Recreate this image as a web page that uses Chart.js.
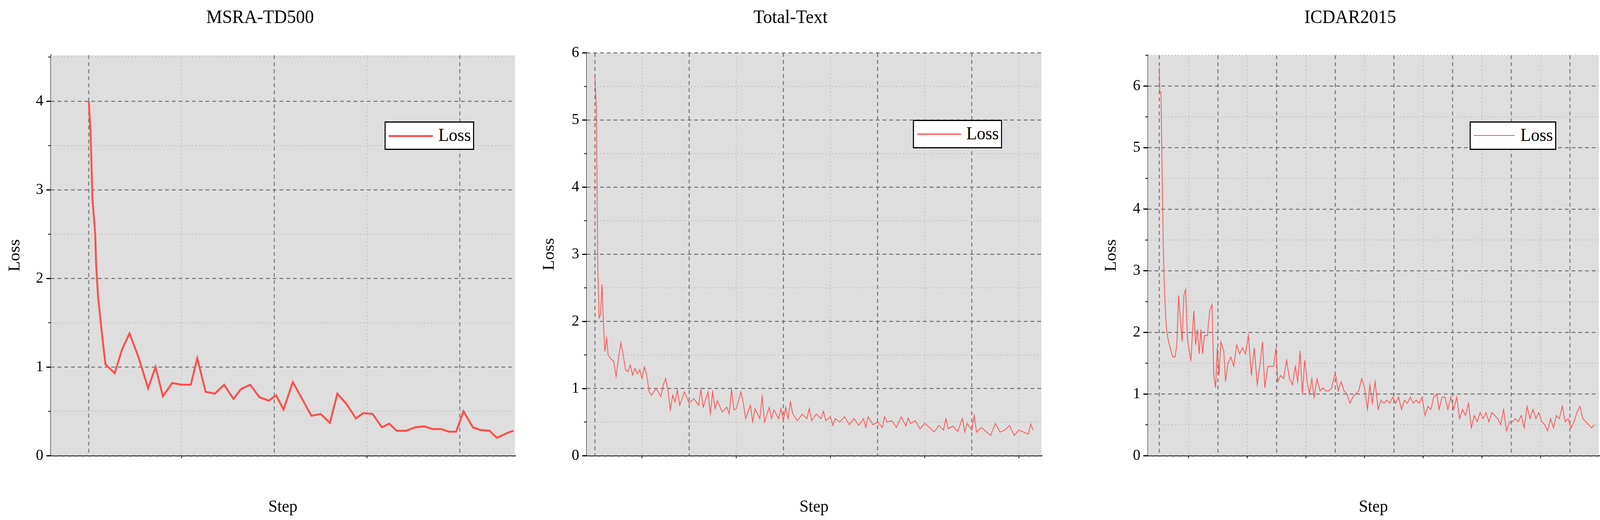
<!DOCTYPE html>
<html>
<head>
<meta charset="utf-8">
<script src="https://cdn.jsdelivr.net/npm/chart.js@4.4.1/dist/chart.umd.min.js"></script>
<style>
  html, body { margin: 0; padding: 0; background: #fff; overflow: hidden; }
  #page { width: 4282px; height: 1332px; position: absolute; left: 0; top: 0; transform-origin: 0 0; }
  .panel { position: absolute; top: 0; height: 1332px; }
  .legend { position: absolute; height: 67px; background: #fff; border: 3px solid #000;
            font-family: "Liberation Serif", serif; font-size: 46px; line-height: 67px; }
  .legend span.sw { position: absolute; left: 8px; top: 32px; width: 118px; background: #ff4d4d; }
  .legend span.tx { position: absolute; right: 6px; top: -2px; }
</style>
</head>
<body>
<div id="page">
<div class="panel" style="left:0;width:1430px"><canvas id="c1" width="1430" height="1332"></canvas></div>
<div class="panel" style="left:1430px;width:1430px"><canvas id="c2" width="1430" height="1332"></canvas></div>
<div class="panel" style="left:2860px;width:1422px"><canvas id="c3" width="1422" height="1332"></canvas></div>
<div class="legend" style="left:1029px;top:311px;width:234px"><span class="sw" style="height:5px"></span><span class="tx">Loss</span></div>
<div class="legend" style="left:2443px;top:307px;width:233px"><span class="sw" style="height:3px"></span><span class="tx">Loss</span></div>
<div class="legend" style="left:3933px;top:311px;width:226px"><span class="sw" style="height:2px;width:110px"></span><span class="tx">Loss</span></div>
</div>
<script>
// MSRA-TD500
const msraSteps = [0,100,200,350,400,500,700,900,1400,1800,2200,2700,3200,3600,4000,4500,5000,5500,5850,6300,6800,7300,7800,8200,8700,9200,9700,10100,10500,11000,11500,12000,12500,13000,13400,13900,14400,14800,15300,15800,16200,16600,17100,17600,18100,18500,19000,19400,19800,20200,20700,21100,21600,22000,22600,22900];
const msraLoss = [4.0,3.65,2.9,2.5,2.15,1.8,1.4,1.03,0.93,1.2,1.38,1.1,0.76,1.0,0.67,0.82,0.8,0.8,1.1,0.72,0.7,0.8,0.64,0.75,0.8,0.66,0.62,0.68,0.52,0.83,0.64,0.45,0.47,0.37,0.7,0.58,0.42,0.48,0.47,0.32,0.36,0.28,0.28,0.32,0.33,0.3,0.3,0.27,0.27,0.5,0.32,0.29,0.28,0.2,0.26,0.28];

// Total-Text (steps in thousands)
const totalSteps = [0,0.3,0.6,0.9,1.2,1.5,1.8,2.1,2.5,2.8,3.3,4.0,4.5,5.0,5.5,6.0,6.5,7.0,7.5,8.0,8.5,9.0,9.5,10.0,10.5,11.0,11.5,12.0,13.0,14.0,14.5,15.0,15.5,16.0,16.5,17.0,17.5,18.0,19.0,20.0,21.0,22.0,22.5,23.0,24.0,24.5,25.0,25.5,26.0,27.0,28.0,28.5,29.0,29.5,30.0,31.0,31.5,32.0,33.0,33.5,34.0,35.0,35.5,36.0,37.0,37.5,38.0,39.0,39.5,40.0,40.5,41.0,41.5,42.0,43.0,44.0,45.0,45.5,46.0,47.0,48.0,48.5,49.0,50.0,50.5,51.0,52.0,53.0,54.0,55.0,56.0,57.0,57.5,58.0,59.0,60.0,61.0,61.5,62.0,63.0,64.0,65.0,66.0,66.5,67.0,68.0,69.0,70.0,71.0,72.0,73.0,74.0,74.5,75.0,76.0,77.0,78.0,78.5,79.0,80.0,80.5,81.0,82.0,83.0,84.0,85.0,86.0,87.0,88.0,89.0,90.0,91.0,92.0,92.5,93.0];
const totalLoss = [5.65,5.2,2.8,2.05,2.1,2.55,2.0,1.55,1.75,1.5,1.45,1.4,1.18,1.45,1.68,1.5,1.28,1.25,1.35,1.2,1.3,1.22,1.28,1.15,1.32,1.2,0.95,0.9,1.0,0.88,1.05,1.15,0.98,0.68,0.9,0.8,0.98,0.75,0.95,0.78,0.85,0.75,0.98,0.72,0.95,0.62,0.95,0.7,0.82,0.65,0.72,0.62,0.98,0.68,0.7,0.95,0.78,0.55,0.75,0.5,0.7,0.55,0.88,0.5,0.72,0.55,0.68,0.55,0.7,0.52,0.72,0.55,0.8,0.62,0.52,0.62,0.55,0.7,0.52,0.62,0.55,0.66,0.52,0.58,0.45,0.55,0.5,0.58,0.46,0.55,0.45,0.55,0.42,0.58,0.46,0.5,0.42,0.58,0.5,0.52,0.42,0.58,0.44,0.56,0.48,0.52,0.4,0.48,0.42,0.35,0.45,0.38,0.55,0.4,0.44,0.36,0.55,0.35,0.48,0.38,0.6,0.35,0.42,0.36,0.3,0.48,0.35,0.38,0.45,0.3,0.38,0.35,0.32,0.47,0.38];

// ICDAR2015 (steps in thousands)
const icdarSteps = [0,0.1,0.3,0.5,0.7,0.9,1.1,1.3,1.6,2.0,2.3,2.7,3.0,3.3,3.6,3.9,4.2,4.5,4.8,5.1,5.4,5.7,5.9,6.2,6.5,6.8,7.1,7.4,7.7,8.2,8.6,9.0,9.3,9.6,9.9,10.2,10.5,11.0,11.3,11.7,12.2,12.7,13.2,13.7,14.2,14.7,15.2,15.7,16.2,16.7,17.2,17.6,18.0,18.5,19.0,19.5,19.9,20.2,20.7,21.2,21.7,22.2,22.7,23.2,23.6,24.0,24.4,24.8,25.2,25.6,26.0,26.4,26.9,27.4,27.9,28.4,28.9,29.4,30.0,30.5,31.0,31.5,32.0,32.5,33.0,33.5,34.0,34.5,35.0,35.5,35.9,36.3,36.8,37.3,37.8,38.3,38.8,39.3,39.8,40.3,40.8,41.3,41.8,42.3,42.8,43.3,43.8,44.3,44.8,45.3,45.8,46.3,46.8,47.3,47.7,48.2,48.7,49.2,49.7,50.2,50.7,51.2,51.7,52.2,52.7,53.2,53.7,54.2,54.7,55.2,55.7,56.2,56.7,57.2,57.7,58.2,58.7,59.2,59.7,60.2,60.7,61.2,61.7,62.2,62.7,63.2,63.7,64.2,64.7,65.2,65.7,66.2,66.7,67.2,67.7,68.2,68.7,69.2,69.7,70.2,70.7,71.2,71.7,72.2,72.7,73.2,73.7,74.2];
const icdarLoss = [6.3,5.9,5.9,4.5,3.35,2.65,2.25,2.0,1.85,1.7,1.6,1.6,1.8,2.6,2.2,1.85,2.6,2.7,1.9,1.7,1.55,2.05,2.35,1.8,2.05,1.65,2.05,1.65,1.95,1.95,2.35,2.45,1.3,1.1,1.75,1.3,1.85,1.7,1.2,1.5,1.6,1.45,1.8,1.65,1.75,1.65,1.95,1.3,1.75,1.15,1.5,1.85,1.1,1.45,1.45,1.45,1.75,1.2,1.3,1.25,1.55,1.25,1.15,1.45,1.2,1.7,1.0,1.55,1.2,1.0,1.25,0.95,1.25,1.05,1.1,1.05,1.05,1.1,1.35,1.05,1.2,1.05,1.0,0.85,0.95,1.0,1.05,1.25,1.1,0.75,1.15,0.85,1.2,0.75,0.9,0.85,0.9,0.85,0.95,0.85,0.95,0.75,0.9,0.85,0.95,0.85,0.9,0.85,0.95,0.65,0.8,0.75,0.95,1.0,0.75,0.95,0.95,0.75,0.95,0.75,0.95,0.6,0.75,0.65,0.85,0.45,0.65,0.55,0.7,0.6,0.7,0.55,0.7,0.65,0.6,0.5,0.75,0.4,0.55,0.55,0.6,0.55,0.65,0.45,0.8,0.6,0.75,0.6,0.7,0.55,0.5,0.4,0.6,0.45,0.65,0.6,0.8,0.55,0.6,0.45,0.55,0.7,0.8,0.6,0.55,0.5,0.45,0.5];

const FONT = '"Liberation Serif", "Times New Roman", serif';
const LINE = '#ff4d4d';

// fit the fixed 4282x1332 layout into whatever the window really is
const page = document.getElementById('page');
page.style.transform = 'scale(' + (window.innerWidth / 4282) + ',' + (window.innerHeight / 1332) + ')';

// background, dashed major / dotted minor grid, minor axis ticks
const gridPlugin = {
  id: 'originGrid',
  beforeDatasetsDraw(chart, args, o) {
    const {ctx, chartArea: a, scales: {x, y}} = chart;
    ctx.save();
    ctx.fillStyle = '#dedede';
    ctx.fillRect(a.left, a.top, a.right - a.left, a.bottom - a.top);
    const lines = (scale, major, vertical) => {
      const step = major / 2;
      for (let v = Math.ceil(scale.min / step) * step; v <= scale.max; v += step) {
        const isMajor = Math.abs(v / major - Math.round(v / major)) < 1e-6;
        const p = scale.getPixelForValue(v);
        ctx.beginPath();
        ctx.strokeStyle = isMajor ? '#707070' : '#b8b8b8';
        ctx.lineWidth = isMajor ? 2.5 : 2;
        ctx.setLineDash(isMajor ? [10, 8] : [3, 6]);
        if (vertical) { ctx.moveTo(p, a.top); ctx.lineTo(p, a.bottom); }
        else { ctx.moveTo(a.left, p); ctx.lineTo(a.right, p); }
        ctx.stroke();
        if (!isMajor) {
          ctx.setLineDash([]);
          ctx.strokeStyle = '#000';
          ctx.beginPath();
          if (vertical) { ctx.moveTo(p, a.bottom); ctx.lineTo(p, a.bottom + 7); }
          else { ctx.moveTo(a.left, p); ctx.lineTo(a.left - 7, p); }
          ctx.stroke();
        }
      }
    };
    lines(x, o.xMajor, true);
    lines(y, o.yMajor, false);
    ctx.restore();
  }
};

function makeChart(id, title, steps, loss, cfg) {
  const points = steps.map((s, i) => ({x: s * cfg.stepUnit, y: loss[i]}));
  return new Chart(document.getElementById(id), {
    type: 'line',
    data: {datasets: [{label: 'Loss', data: points, borderColor: LINE, borderWidth: cfg.lineWidth,
                       pointRadius: 0, tension: 0, fill: false}]},
    options: {
      responsive: false, animation: false, devicePixelRatio: 1,
      layout: {padding: {left: cfg.padLeft, right: cfg.padRight, top: 0, bottom: 0}},
      plugins: {
        legend: {display: false}, tooltip: {enabled: false},
        title: {display: true, text: title, color: '#000', font: {family: FONT, size: 48, weight: 'normal'},
                padding: {top: 18, bottom: cfg.titleBottom}},
        originGrid: {xMajor: cfg.xMajor, yMajor: 1}
      },
      scales: {
        x: {
          type: 'linear', min: cfg.xMin, max: cfg.xMax,
          afterFit: s => { s.height = 165; },
          ticks: {stepSize: cfg.xMajor, color: '#000', font: {family: FONT, size: 40}, padding: 6,
                  maxRotation: 0, autoSkip: false,
                  callback: v => (v % cfg.xMajor === 0 ? v.toLocaleString('en-US') : null)},
          grid: {drawOnChartArea: false, color: '#000', tickLength: 12, lineWidth: 3},
          border: {color: '#000', width: 3},
          title: {display: true, text: 'Step', color: '#000', font: {family: FONT, size: 44}, padding: {top: 0, bottom: 6}}
        },
        y: {
          type: 'linear', min: 0, max: cfg.yMax,
          afterFit: s => { s.width = cfg.yWidth; },
          ticks: {stepSize: 1, color: '#000', font: {family: FONT, size: 40}, padding: 8,
                  callback: v => (Number.isInteger(v) ? String(v) : null)},
          grid: {drawOnChartArea: false, color: '#000', tickLength: 12, lineWidth: 3},
          border: {color: '#000', width: 3},
          title: {display: true, text: 'Loss', color: '#000', font: {family: FONT, size: 44}, padding: {top: 0, bottom: 0}}
        }
      }
    },
    plugins: [gridPlugin]
  });
}

makeChart('c1', 'MSRA-TD500', msraSteps, msraLoss,
  {stepUnit: 1, xMin: -2043, xMax: 22970, xMajor: 10000, yMax: 4.52, lineWidth: 5,
   padLeft: 14, padRight: 52, yWidth: 122, titleBottom: 66});
makeChart('c2', 'Total-Text', totalSteps, totalLoss,
  {stepUnit: 1000, xMin: -1755, xMax: 94770, xMajor: 20000, yMax: 6, lineWidth: 2,
   padLeft: 14, padRight: 73, yWidth: 126, titleBottom: 60});
makeChart('c3', 'ICDAR2015', icdarSteps, icdarLoss,
  {stepUnit: 1000, xMin: -1936, xMax: 74940, xMajor: 10000, yMax: 6.5, lineWidth: 2,
   padLeft: 88, padRight: 3, yWidth: 124, titleBottom: 66});
</script>
</body>
</html>
